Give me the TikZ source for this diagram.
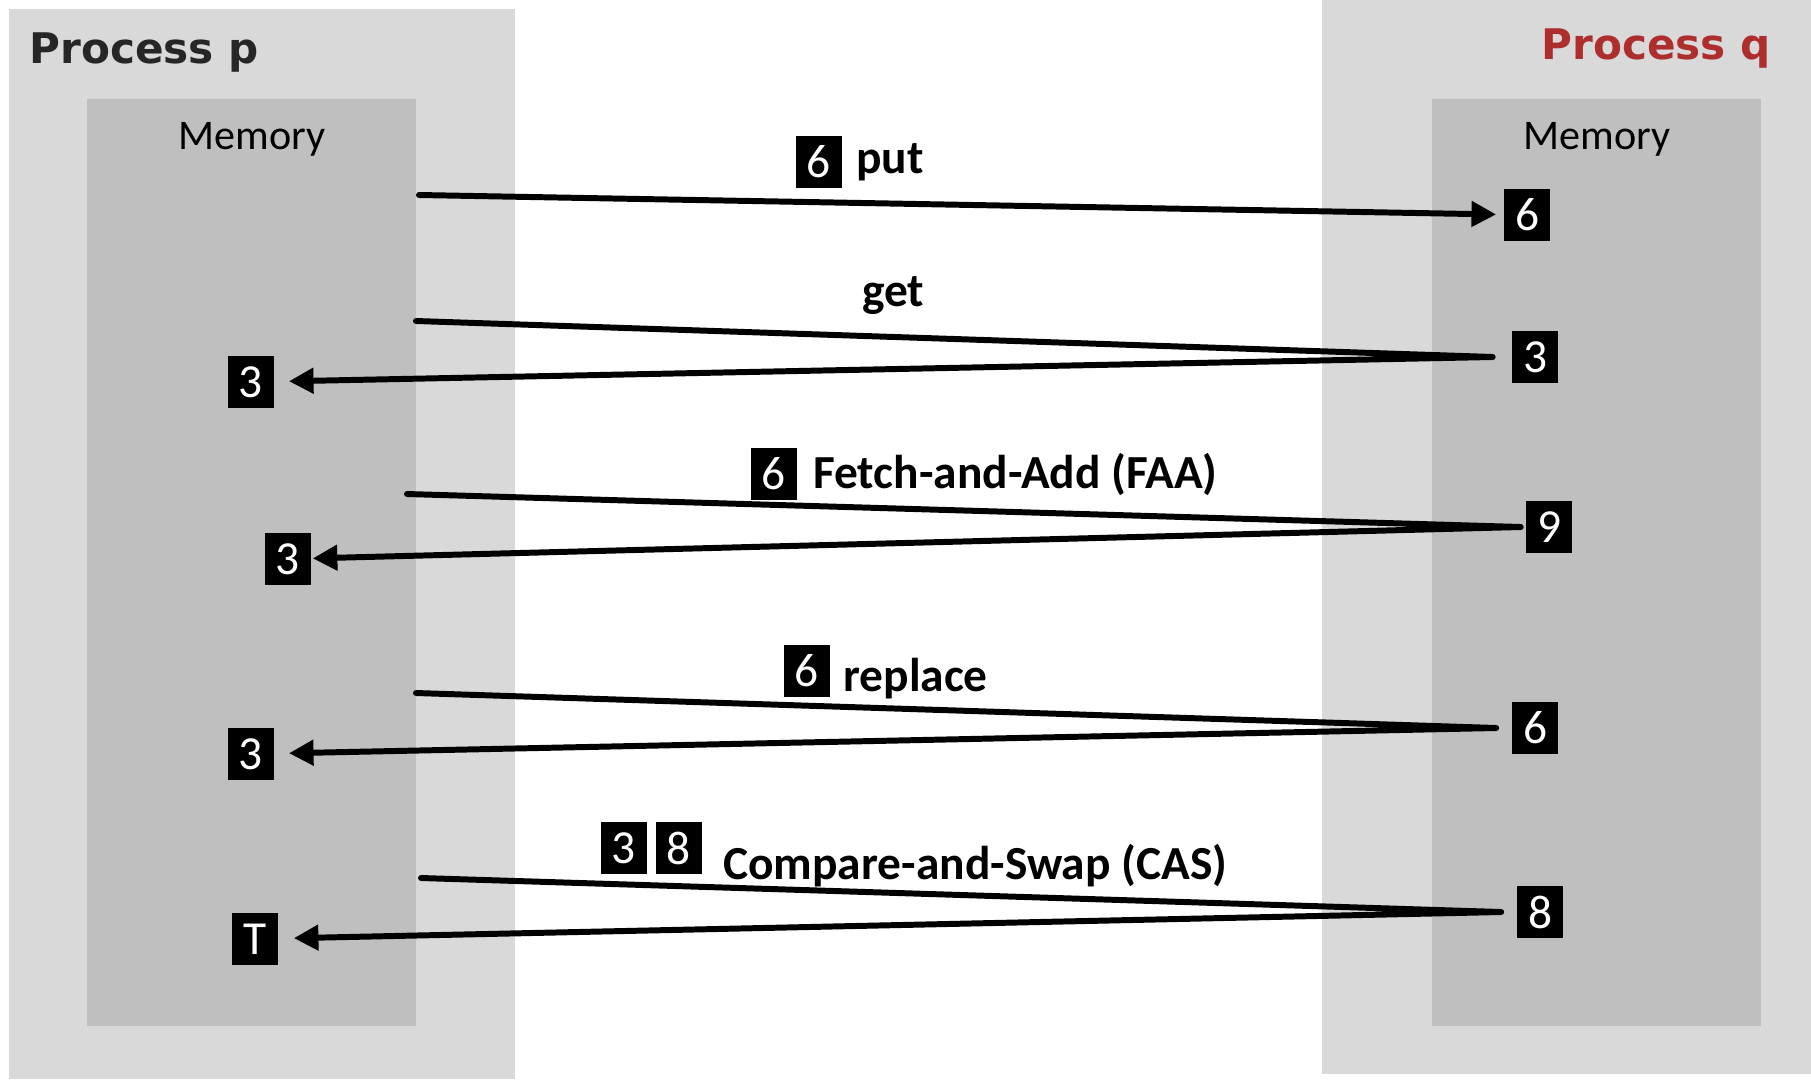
\documentclass[tikz,border=0pt]{standalone}
\usepackage{fontspec}
\setmainfont{Carlito}
\newfontfamily\headfont{DejaVu Sans}
\usetikzlibrary{arrows.meta,positioning}
\definecolor{procgray}{HTML}{D9D9D9}
\definecolor{memgray}{HTML}{BFBFBF}
\definecolor{headdark}{HTML}{262626}
\definecolor{headred}{HTML}{AE2E2E}

\begin{document}
\begin{tikzpicture}[
  x=0.02cm, y=-0.02cm,
  font=\fontsize{27}{32}\selectfont,
  valbox/.style={fill=black, text=white, minimum width=0.92cm,
    minimum height=1.04cm, inner sep=0pt, outer sep=0pt},
  memval/.style={valbox, outer sep=9pt},
  oplabel/.style={font=\fontsize{27}{32}\selectfont\bfseries, inner sep=0pt},
  header/.style={font=\fontsize{24}{28}\selectfont\headfont\bfseries, inner sep=0pt},
  memlabel/.style={font=\fontsize{24}{28}\selectfont, inner sep=0pt},
  wire/.style={line width=3.4pt, line cap=round, line join=round},
  arrow/.style={wire, -{Triangle[length=14pt, width=14pt]}}
]
\useasboundingbox (0,0) rectangle (1811,1079);
\fill[white] (0,0) rectangle (1811,1079);

% the two processes and their memories
\fill[procgray] (9,9) rectangle (515,1079);
\fill[memgray] (87,99) rectangle (416,1026);
\fill[procgray] (1322,0) rectangle (1811,1074);
\fill[memgray] (1432,99) rectangle (1761,1026);

\node[header, text=headdark, anchor=west] (ptitle) at (29,53) {Process p};
\node[header, text=headred, anchor=east] (qtitle) at (1771,49) {Process q};
\node[memlabel] (pmem) at (252,139) {Memory};
\node[memlabel] (qmem) at (1597,139) {Memory};

% values held in memory
\node[memval, outer sep=4.5pt] (qput) at (1527,215) {6};
\node[memval, outer sep=11pt] (qget) at (1535,357) {3};
\node[memval, outer sep=3pt] (qfaa) at (1549,527) {9};
\node[memval] (qrep) at (1535,728) {6};
\node[memval] (qcas) at (1540,912) {8};

\node[memval, outer sep=8.5pt] (pget) at (251,382) {3};
\node[memval, outer sep=1pt] (pfaa) at (288,559) {3};
\node[memval, outer sep=8.5pt] (prep) at (251,754) {3};
\node[memval] (pcas) at (255,939) {T};

% operation names and their arguments
\node[valbox] (putarg) at (819,162) {6};
\node[oplabel, right=2.8mm of putarg] (putop) {put};
\node[oplabel] (getop) at (893,296) {get};
\node[valbox] (faaarg) at (774,474) {6};
\node[oplabel, right=3.2mm of faaarg] (faaop) {Fetch-and-Add (FAA)};
\node[valbox] (reparg) at (807,671) {6};
\node[oplabel, right=2.6mm of reparg, yshift=-1.6mm] (repop) {replace};
\node[valbox] (casold) at (624,848) {3};
\node[valbox, right=1.8mm of casold] (casnew) {8};
\node[oplabel, right=4.2mm of casnew, yshift=-3.6mm] (casop) {Compare-and-Swap (CAS)};

% request and reply paths
\coordinate (sput) at (419,195);
\coordinate (sget) at (416,321);
\coordinate (sfaa) at (407,494);
\coordinate (srep) at (416,693);
\coordinate (scas) at (421,878);

\draw[arrow] (sput) -- (qput);
\draw[arrow] (sget) -- (qget.west) -- (pget);
\draw[arrow] (sfaa) -- (qfaa.west) -- (pfaa);
\draw[arrow] (srep) -- (qrep.west) -- (prep);
\draw[arrow] (scas) -- (qcas.west) -- (pcas);
\end{tikzpicture}
\end{document}
